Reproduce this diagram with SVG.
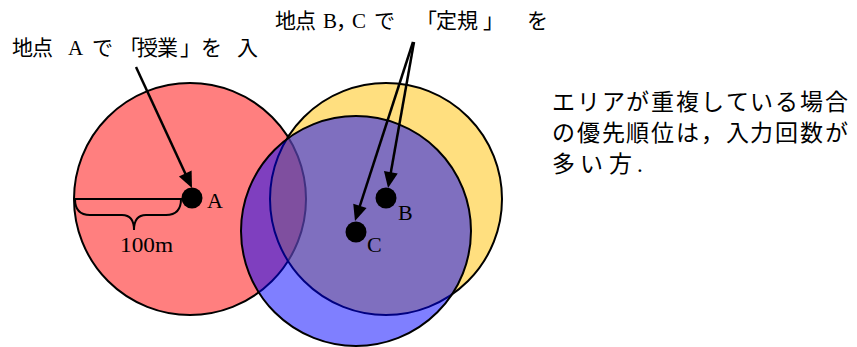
<svg xmlns="http://www.w3.org/2000/svg" width="857" height="347" viewBox="0 0 857 347">
  <style>
    .area { stroke: #000; stroke-width: 2; fill-opacity: 0.5; }
    .dot { fill: #000; }
    .lbl { font-family: "Liberation Serif", "Noto Sans CJK JP", serif; font-size: 22px; fill: #000; }
    .jp { font-family: "Liberation Serif", "Noto Sans CJK JP", serif; fill: #000; }
    .t20 { font-size: 21px; }
    .t22 { font-size: 23px; }
    .arrow { stroke: #000; stroke-width: 2.5; fill: none; marker-end: url(#ah); }
    .dim { stroke: #000; stroke-width: 2; fill: none; }
  </style>
  <defs>
    <marker id="ah" markerUnits="userSpaceOnUse" markerWidth="16" markerHeight="14" refX="2" refY="7" orient="auto" overflow="visible">
      <path d="M0,0 L16,7 L0,14 z" fill="#000"/>
    </marker>
  </defs>
  <rect width="857" height="347" fill="#fff"/>

  <g id="area-a"><circle class="area" cx="190" cy="199" r="116" fill="#ff0000"/></g>
  <g id="area-b"><circle class="area" cx="386" cy="199" r="116" fill="#ffc000"/></g>
  <g id="area-c"><circle class="area" cx="356" cy="231" r="115" fill="#0000ff"/></g>

  <g id="dimension">
    <line class="dim" x1="74" y1="199" x2="183" y2="199"/>
    <path class="dim" d="M75,199 Q75,215 90,215 L122,215 Q134,215 134,230 Q134,215 146,215 L166,215 Q181,215 181,199"/>
    <text class="lbl" x="120" y="252" textLength="53" lengthAdjust="spacingAndGlyphs">100m</text>
  </g>

  <g id="point-a">
    <circle class="dot" cx="192" cy="198" r="10.5"/>
    <text class="lbl" x="207" y="208">A</text>
  </g>
  <g id="point-b">
    <circle class="dot" cx="386" cy="198" r="10.5"/>
    <text class="lbl" x="398" y="220">B</text>
  </g>
  <g id="point-c">
    <circle class="dot" cx="356" cy="232" r="10.5"/>
    <text class="lbl" x="367" y="252">C</text>
  </g>

  <g id="connectors">
    <line class="arrow" x1="136" y1="67" x2="186.1" y2="175.3"/>
    <line class="arrow" x1="414" y1="42" x2="390.5" y2="174.2"/>
    <line class="arrow" x1="413" y1="42" x2="359.3" y2="207.7"/>
  </g>

  <g id="label-a">
    <text class="jp t20" y="55" x="12 32 68 92 119 137 157 180 201 237">地点Aで「授業」を入</text>
  </g>
  <g id="label-bc">
    <text class="jp t20" y="28" x="275 295 323 336 352 374 416 436 457 483 527">地点B，Cで「定規」を</text>
  </g>
  <g id="note">
    <text class="jp t22" y="110" x="552 577 602 626 651 676 701 726 750 775 800 825">エリアが重複している場合</text>
    <text class="jp t22" y="141" x="552 577 602 626 651 676 701 726 750 775 800 825">の優先順位は，入力回数が</text>
    <text class="jp t22" y="172" x="552 580 609 637">多い方.</text>
  </g>
</svg>
